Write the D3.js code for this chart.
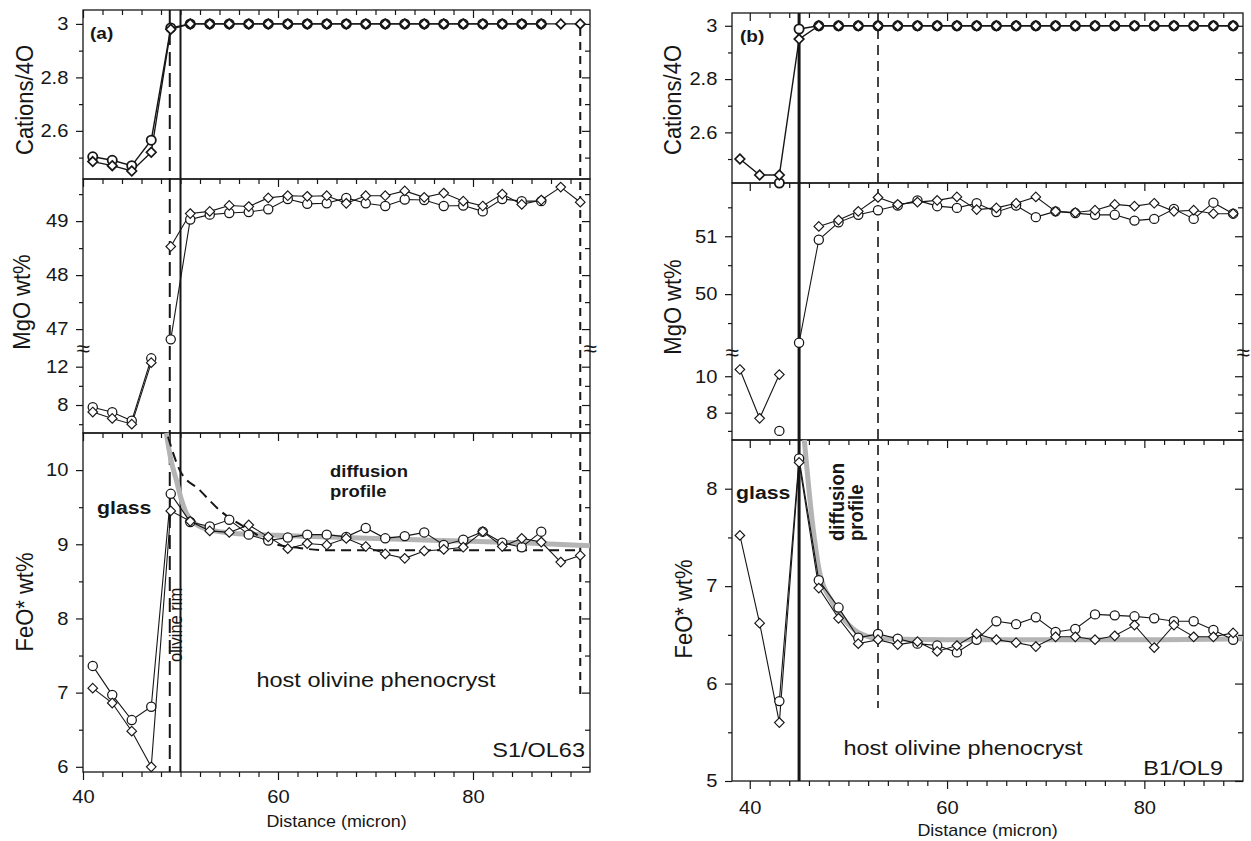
<!DOCTYPE html>
<html lang="en">
<head>
<meta charset="UTF-8">
<title>Olivine rim profiles</title>
<script src="https://cdnjs.cloudflare.com/ajax/libs/d3/7.8.5/d3.min.js"></script>
<style>
  body { margin: 0; background: #fff; }
  svg { display: block; font-family: Arial, "Liberation Sans", Helvetica, sans-serif; }
</style>
</head>
<body>
<svg width="1251" height="841"></svg>
<script>
// ---------- panel (a) S1/OL63 ----------
const distA = [41,43,45,47,49,51,53,55,57,59,61,63,65,67,69,71,73,75,77,79,81,83,85,87,89,91];
const catA_circ = [2.503,2.49,2.47,2.565,2.985,3,3,3,3,3,3,3,3,3,3,3,3,3,3,3,3,3,3,3,null,null];
const catA_diam = [2.485,2.47,2.45,2.52,2.98,3,3,3,3,3,3,3,3,3,3,3,3,3,3,3,3,3,3,3,3,3];
const mgoA_circ = [7.76,7.24,6.36,12.87,46.81,49.03,49.12,49.15,49.17,49.22,49.41,49.32,49.33,49.43,49.33,49.28,49.40,49.39,49.28,49.29,49.18,49.41,49.37,49.37,null,null];
const mgoA_diam = [7.27,6.6,6.0,12.42,48.53,49.14,49.18,49.29,49.27,49.43,49.47,49.46,49.47,49.33,49.47,49.47,49.56,49.44,49.52,49.37,49.28,49.50,49.31,49.39,49.63,49.35];
const feoA_circ = [7.36,6.97,6.63,6.81,9.68,9.30,9.24,9.33,9.13,9.05,9.09,9.13,9.13,9.10,9.22,9.08,9.11,9.16,8.99,9.06,9.17,9.02,8.96,9.17,null,null];
const feoA_diam = [7.06,6.86,6.48,6.0,9.45,9.31,9.18,9.16,9.26,9.10,8.94,9.01,8.99,9.08,8.97,8.87,8.81,8.91,8.93,8.96,9.17,8.97,9.08,9.03,8.76,8.85];
// diffusion models drawn over FeO*
const fitA_x = [48.55,49,49.58,50.1,50.6,51.97,53.5,55.4,60,64.3,76.6,85,92];
const fitA_y = [10.5,10.15,9.86,9.6,9.42,9.24,9.18,9.15,9.12,9.1,9.05,9.02,8.98];
const dashA_x = [48.72,49.92,51.97,54.0,57.1,59.5,62.2,65,91];
const dashA_y = [10.45,10.0,9.73,9.46,9.19,9.01,8.95,8.92,8.92];

// ---------- panel (b) B1/OL9 ----------
const distB = [39,41,43,45,47,49,51,53,55,57,59,61,63,65,67,69,71,73,75,77,79,81,83,85,87,89];
const catB_circ = [null,null,null,2.988,3,3,3,3,3,3,3,3,3,3,3,3,3,3,3,3,3,3,3,3,3,3];
const catB_diam = [2.50,2.44,2.44,2.95,3,3,3,3,3,3,3,3,3,3,3,3,3,3,3,3,3,3,3,3,3,3];
const mgoB_circ = [null,null,null,49.16,50.94,51.24,51.37,51.45,51.53,51.62,51.52,51.49,51.57,51.42,51.53,51.33,51.43,51.40,51.37,51.37,51.27,51.30,51.47,51.30,51.58,51.39];
const mgoB_diam = [10.37,7.69,10.09,null,51.17,51.28,51.43,51.67,51.55,51.59,51.62,51.68,51.46,51.49,51.57,51.68,51.43,51.41,51.45,51.55,51.52,51.57,51.43,51.45,51.39,51.39];
const feoB_circ = [null,null,5.82,8.31,7.06,6.78,6.47,6.51,6.46,6.41,6.39,6.32,6.45,6.64,6.61,6.68,6.53,6.56,6.71,6.70,6.69,6.67,6.64,6.64,6.55,6.45];
const feoB_diam = [7.52,6.62,5.60,8.27,6.98,6.67,6.41,6.45,6.40,6.43,6.33,6.39,6.51,6.45,6.42,6.38,6.48,6.48,6.45,6.49,6.60,6.37,6.60,6.48,6.48,6.52];
// lone glass analysis (circle) at 43 micron
const loneB_x = 43, loneB_cat = 2.41, loneB_mgo = 7.0;
const fitB_x = [45.53,46.3,47.11,48.29,49.88,51.27,53.45,60,70,80,90];
const fitB_y = [8.5,7.7,7.13,6.85,6.62,6.51,6.46,6.45,6.45,6.45,6.46];

const svg = d3.select("svg");
const INK = "#161616";
const SX = 1.12; // the source figure is a little stretched sideways

function addText(parent, x, y, str, o = {}) {
  return parent.append("text")
    .attr("transform", `translate(${x},${y}) scale(${SX},1)` + (o.rotate ? ` rotate(${o.rotate})` : ""))
    .attr("font-size", o.size || 18)
    .attr("font-weight", o.weight || "normal")
    .attr("text-anchor", o.anchor || "start")
    .attr("dy", o.dy || null)
    .attr("fill", INK)
    .text(str);
}

function ticks(parent, axis, tx, ty, size) {
  const a = parent.append("g").attr("transform", `translate(${tx},${ty})`).call(axis);
  a.select(".domain").remove();
  a.attr("font-size", null).attr("font-family", null);
  a.selectAll("line").attr("stroke", INK).attr("stroke-width", 1.2);
  a.selectAll("text").attr("fill", INK).attr("font-size", size || 18)
    .attr("transform", `scale(${SX},1)`);
  return a;
}

const diamond = "M0,-4.8L4.8,0L0,4.8L-4.8,0Z";

function drawPanel(p) {
  const g = svg.append("g");
  const [x0, x1] = p.xRange;
  const [top, catBot, mgBot, feBot] = p.rows;
  const x = d3.scaleLinear().domain(p.xDomain).range(p.xRange);

  const yCat = d3.scaleLinear().domain(p.catDomain).range([catBot, top]);
  const yMgHi = d3.scaleLinear().domain(p.mgHiDomain).range([p.mgBreak, catBot]);
  const yMgLo = d3.scaleLinear().domain(p.mgLoDomain).range([mgBot, p.mgBreak]);
  const yMg = v => v > 30 ? yMgHi(v) : yMgLo(v);
  const yFe = d3.scaleLinear().domain(p.feDomain).range([feBot, mgBot]);
  const ys = { cat: yCat, mgo: yMg, fe: yFe };

  // row frames
  g.selectAll("rect").data([[top, catBot], [catBot, mgBot], [mgBot, feBot]]).join("rect")
    .attr("x", x0).attr("y", d => d[0])
    .attr("width", x1 - x0).attr("height", d => d[1] - d[0])
    .attr("fill", "none").attr("stroke", INK).attr("stroke-width", 1.3);

  // x ticks: inward at the top of every row, outward at the bottom
  const xMajor = [40, 60, 80];
  const xMinor = d3.range(40, 92, 2).filter(v => v > p.xDomain[0] && v < p.xDomain[1] && v % 20 !== 0);
  [top, catBot, mgBot].forEach(yy => {
    ticks(g, d3.axisBottom(x).tickValues(xMinor).tickSize(5).tickFormat(""), 0, yy);
    ticks(g, d3.axisBottom(x).tickValues(xMajor).tickSize(8).tickFormat(""), 0, yy);
  });
  ticks(g, d3.axisBottom(x).tickValues(xMinor).tickSize(5).tickFormat(""), 0, feBot);
  ticks(g, d3.axisBottom(x).tickValues(xMajor).tickSize(8).tickPadding(p.xPad).tickFormat(d3.format("d")), 0, feBot);

  // y ticks, labels on the left, inward ticks on the right
  function yTicks(scale, major, minor) {
    ticks(g, d3.axisLeft(scale).tickValues(major).tickSize(7).tickPadding(6).tickFormat(d => String(d)), x0, 0);
    ticks(g, d3.axisLeft(scale).tickValues(minor).tickSize(4).tickFormat(""), x0, 0);
    ticks(g, d3.axisLeft(scale).tickValues(major).tickSize(8).tickFormat(""), x1, 0);
    ticks(g, d3.axisLeft(scale).tickValues(minor).tickSize(5).tickFormat(""), x1, 0);
  }
  yTicks(yCat, [2.6, 2.8, 3], [2.5, 2.7, 2.9]);
  yTicks(yMgHi, p.mgHiMajor, p.mgHiMinor);
  yTicks(yMgLo, p.mgLoMajor, p.mgLoMinor);
  yTicks(yFe, p.feMajor, p.feMinor);

  // axis break marks
  [x0, x1].forEach(xx => addText(g, xx, p.mgBreak, "\u2248", { size: 22, anchor: "middle", dy: "0.35em" }));

  // axis titles
  addText(g, p.titleX[0], p.titleY[0], "Cations/4O", { size: 22, anchor: "middle", rotate: -90 });
  addText(g, p.titleX[1], p.titleY[1], "MgO wt%", { size: 22, anchor: "middle", rotate: -90 });
  addText(g, p.titleX[2], p.titleY[2], "FeO* wt%", { size: 22, anchor: "middle", rotate: -90 });
  addText(g, (x0 + x1) / 2, feBot + 55, "Distance (micron)", { size: 16, anchor: "middle" });

  // boundary lines
  p.vlines.forEach(v => {
    g.append("line")
      .attr("x1", x(v.x)).attr("x2", x(v.x))
      .attr("y1", v.from ? ys[v.from[0]](v.from[1]) : top)
      .attr("y2", v.to ? ys[v.to[0]](v.to[1]) : feBot)
      .attr("stroke", INK).attr("stroke-width", v.w)
      .attr("stroke-dasharray", v.dash || null);
  });

  // diffusion model curves
  const fitLine = d3.line().x(d => x(d[0])).y(d => yFe(d[1])).curve(d3.curveMonotoneX);
  g.append("path").attr("d", fitLine(d3.zip(p.fitX, p.fitY)))
    .attr("fill", "none").attr("stroke", "#b4b4b4").attr("stroke-width", 5);
  if (p.dashX) {
    g.append("path").attr("d", fitLine(d3.zip(p.dashX, p.dashY)))
      .attr("fill", "none").attr("stroke", INK).attr("stroke-width", 2)
      .attr("stroke-dasharray", "10,6");
  }

  // measured profiles
  const rows = [["cat", p.cat], ["mgo", p.mgo], ["fe", p.fe]];
  rows.forEach(([key, series]) => {
    const y = ys[key];
    const sw = key === "cat" ? 1.8 : 1.25;
    series.forEach(vals => {
      const pts = [];
      vals.forEach((v, i) => {
        const prev = pts.length ? pts[pts.length - 1] : null;
        // no line across the broken MgO axis
        if (key === "mgo" && prev && prev.v != null && v != null && (prev.v > 30) !== (v > 30)) {
          pts.push({ d: p.dist[i], v: null });
        }
        pts.push({ d: p.dist[i], v: v });
      });
      const line = d3.line().defined(d => d.v != null).x(d => x(d.d)).y(d => y(d.v));
      g.append("path").attr("d", line(pts))
        .attr("fill", "none").attr("stroke", INK).attr("stroke-width", key === "cat" ? 1.4 : 1.1);
    });
    const circ = p.dist.map((d, i) => ({ d, v: series[0][i] })).filter(d => d.v != null);
    const diam = p.dist.map((d, i) => ({ d, v: series[1][i] })).filter(d => d.v != null);
    if (p.lone && p.lone[key] != null) circ.push({ d: p.lone.x, v: p.lone[key] });
    g.append("g").selectAll("circle").data(circ).join("circle")
      .attr("cx", d => x(d.d)).attr("cy", d => y(d.v)).attr("r", 4.6)
      .attr("fill", "#fff").attr("stroke", INK).attr("stroke-width", sw);
    g.append("g").selectAll("path").data(diam).join("path")
      .attr("d", diamond)
      .attr("transform", d => `translate(${x(d.d)},${y(d.v)})`)
      .attr("fill", "#fff").attr("stroke", INK).attr("stroke-width", sw - 0.1);
  });

  return g;
}

const gA = drawPanel({
  xDomain: [40, 92], xRange: [83, 590], xPad: 10,
  rows: [10, 179, 433, 772],
  catDomain: [2.42, 3.052],
  mgHiDomain: [46.65, 49.78], mgLoDomain: [5.08, 13.95], mgBreak: 348,
  mgHiMajor: [47, 48, 49], mgHiMinor: [47.5, 48.5, 49.5],
  mgLoMajor: [8, 12], mgLoMinor: [6, 10],
  feDomain: [5.93, 10.5],
  feMajor: [6, 7, 8, 9, 10], feMinor: [6.5, 7.5, 8.5, 9.5],
  titleX: [33, 30, 33], titleY: [100, 302, 602],
  dist: distA,
  cat: [catA_circ, catA_diam], mgo: [mgoA_circ, mgoA_diam], fe: [feoA_circ, feoA_diam],
  fitX: fitA_x, fitY: fitA_y, dashX: dashA_x, dashY: dashA_y,
  vlines: [
    { x: 48.9, w: 2, dash: "14,7" },
    { x: 50, w: 2 },
    { x: 91, w: 2, dash: "8,6", from: ["cat", 2.985], to: ["fe", 6.95] }
  ]
});
addText(gA, 90, 39, "(a)", { size: 17, weight: "bold" });
addText(gA, 97, 514, "glass", { size: 19, weight: "bold" });
addText(gA, 330, 477, "diffusion", { size: 16.5, weight: "bold" });
addText(gA, 330, 497, "profile", { size: 16.5, weight: "bold" });
addText(gA, 182, 662, "olivine rim", { size: 16.5, rotate: -90 });
addText(gA, 376, 687, "host olivine phenocryst", { size: 21, anchor: "middle" });
addText(gA, 585, 757, "S1/OL63", { size: 21, anchor: "end" });

const gB = drawPanel({
  xDomain: [38.2, 90], xRange: [732, 1243], xPad: 12,
  rows: [13, 183, 440, 781],
  catDomain: [2.41, 3.048],
  mgHiDomain: [49, 51.92], mgLoDomain: [6.5, 11.33], mgBreak: 352,
  mgHiMajor: [50, 51], mgHiMinor: [49.5, 50.5, 51.5],
  mgLoMajor: [8, 10], mgLoMinor: [7, 9],
  feDomain: [5, 8.5],
  feMajor: [5, 6, 7, 8], feMinor: [5.5, 6.5, 7.5],
  titleX: [681, 681, 692], titleY: [100, 307, 609],
  dist: distB,
  cat: [catB_circ, catB_diam], mgo: [mgoB_circ, mgoB_diam], fe: [feoB_circ, feoB_diam],
  lone: { x: loneB_x, cat: loneB_cat, mgo: loneB_mgo },
  fitX: fitB_x, fitY: fitB_y,
  vlines: [
    { x: 45, w: 3 },
    { x: 53, w: 1.6, dash: "10,6", to: ["fe", 5.75] }
  ]
});
addText(gB, 740, 42, "(b)", { size: 17, weight: "bold" });
addText(gB, 736, 499, "glass", { size: 19, weight: "bold" });
addText(gB, 844, 541, "diffusion", { size: 18.5, weight: "bold", rotate: -90 });
addText(gB, 863, 541, "profile", { size: 18.5, weight: "bold", rotate: -90 });
addText(gB, 963, 755, "host olivine phenocryst", { size: 21, anchor: "middle" });
addText(gB, 1223, 775, "B1/OL9", { size: 21, anchor: "end" });
</script>
</body>
</html>
